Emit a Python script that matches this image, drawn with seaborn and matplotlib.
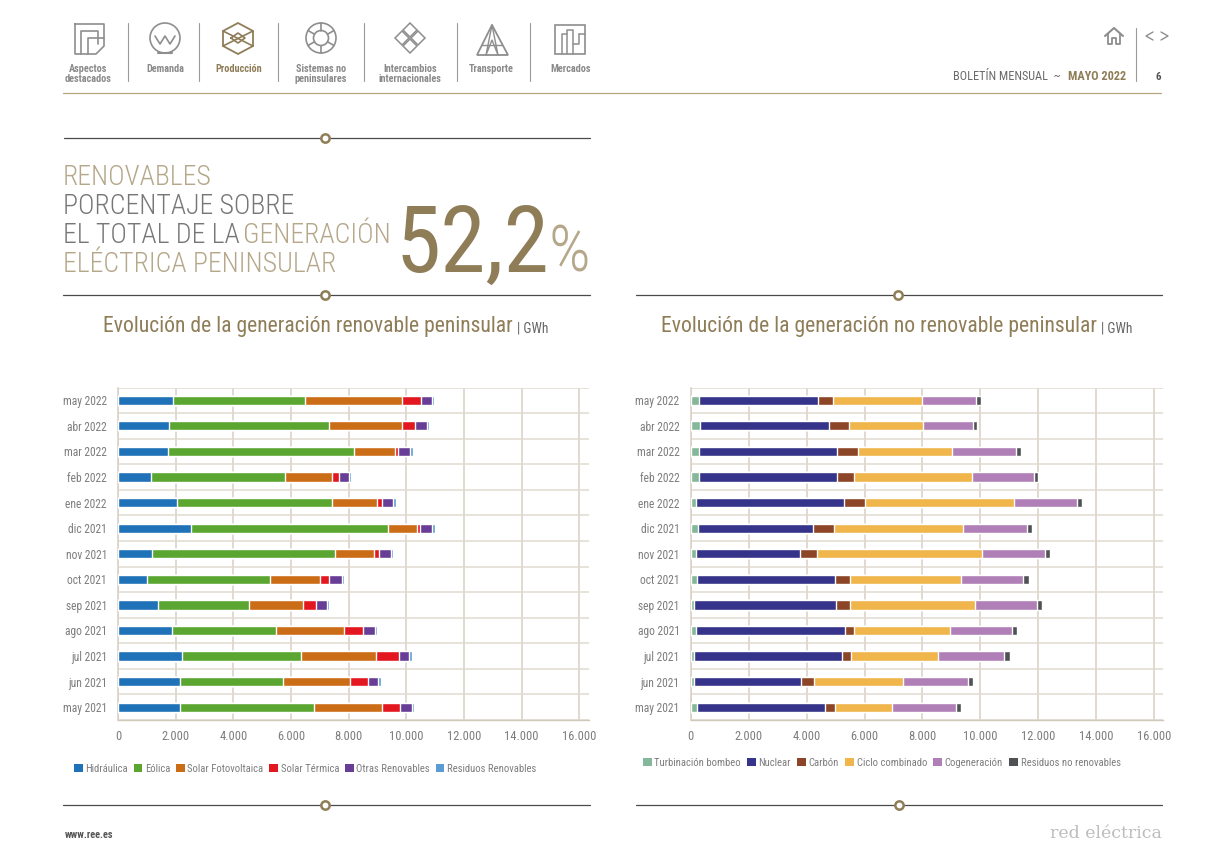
import numpy as np
import matplotlib
matplotlib.use("Agg")
import matplotlib.pyplot as plt
from matplotlib.patches import Patch, Circle, Polygon, Rectangle
import seaborn as sns

# =====================================================
# DATA (GWh)
# =====================================================

months = ["may 2022", "abr 2022", "mar 2022", "feb 2022", "ene 2022", "dic 2021", "nov 2021",
          "oct 2021", "sep 2021", "ago 2021", "jul 2021", "jun 2021", "may 2021"]

hidraulica = [1925, 1775, 1730, 1137, 2053, 2529, 1195, 1009, 1380, 1856, 2204, 2157, 2157]
eolica = [4575, 5545, 6456, 4640, 5367, 6828, 6335, 4257, 3156, 3631, 4141, 3562, 4641]
solar_foto = [3361, 2541, 1414, 1663, 1553, 1008, 1340, 1752, 1890, 2363, 2595, 2316, 2351]
solar_termica = [643, 424, 116, 212, 174, 116, 174, 302, 441, 650, 800, 638, 649]
otras_renov = [383, 428, 417, 359, 406, 406, 428, 452, 383, 417, 360, 348, 406]
residuos_renov = [81, 70, 104, 79, 82, 104, 70, 81, 81, 81, 81, 93, 47]

turbinacion = [289, 324, 289, 289, 197, 254, 197, 231, 104, 173, 104, 104, 231]
nuclear = [4104, 4439, 4763, 4763, 5086, 3954, 3583, 4763, 4925, 5145, 5133, 3711, 4393]
carbon = [508, 693, 716, 578, 717, 728, 567, 520, 485, 312, 289, 428, 347]
ciclo = [3076, 2556, 3249, 4081, 5167, 4463, 5699, 3804, 4289, 3318, 3017, 3098, 1965]
cogeneracion = [1884, 1734, 2220, 2127, 2162, 2208, 2185, 2162, 2162, 2127, 2255, 2220, 2232]
residuos_no = [150, 150, 150, 150, 185, 185, 162, 185, 150, 185, 219, 185, 161]

renov_series = [hidraulica, eolica, solar_foto, solar_termica, otras_renov, residuos_renov]
renov_labels = ["Hidráulica", "Eólica", "Solar Fotovoltaica", "Solar Térmica",
                "Otras Renovables", "Residuos Renovables"]
renov_colors = ["#1f72b8", "#5aa631", "#cb6d17", "#e3171f", "#683d96", "#5b9bd5"]

noren_series = [turbinacion, nuclear, carbon, ciclo, cogeneracion, residuos_no]
noren_labels = ["Turbinación bombeo", "Nuclear", "Carbón", "Ciclo combinado",
                "Cogeneración", "Residuos no renovables"]
noren_colors = ["#85b79b", "#36348a", "#8c4526", "#f0b54b", "#b07fb8", "#505155"]

x_ticks = [0, 2000, 4000, 6000, 8000, 10000, 12000, 14000, 16000]
x_tick_labels = ["0", "2.000", "4.000", "6.000", "8.000", "10.000", "12.000", "14.000", "16.000"]

# =====================================================
# FIGURE AND PAGE LAYER (pixel coordinates)
# =====================================================

sns.set_theme(style="white")
plt.rcParams["font.family"] = ["Roboto Condensed", "DejaVu Sans"]

W, H = 1224, 865
fig = plt.figure(figsize=(W / 100, H / 100), dpi=100, facecolor="white")

page = fig.add_axes([0, 0, 1, 1], zorder=0)
page.set_xlim(0, W)
page.set_ylim(H, 0)
page.axis("off")

GOLD = "#8f7d58"
LIGHT_GOLD = "#b5a78a"
DARK = "#4a4a4a"
GREY = "#8a8a8a"


def divider(x0, x1, y, node):
    page.plot([x0, x1], [y, y], color=DARK, lw=0.9, zorder=1)
    page.plot([node], [y], marker="o", ms=6, mfc="white", mec=GOLD, mew=1.8, zorder=2)


divider(64, 590, 138, 325)
divider(63, 590, 295, 325)
divider(636, 1162, 295, 898)
divider(63, 590, 805, 325)
divider(636, 1162, 805, 899)
page.plot([63, 1161], [92.5, 92.5], color="#b7a57f", lw=0.9)

# =====================================================
# TOP MENU
# =====================================================

for x in [128, 199, 278, 364, 457, 530]:
    page.plot([x, x], [23, 81], color="#9a9a9a", lw=0.8)

menu = [(88, "Aspectos\ndestacados", GREY), (165, "Demanda", GREY), (239, "Producción", GOLD),
        (321, "Sistemas no\npeninsulares", GREY), (410, "Intercambios\ninternacionales", GREY),
        (491, "Transporte", GREY), (571, "Mercados", GREY)]
for x, label, col in menu:
    page.text(x, 63.5, label, ha="center", va="top", fontsize=7.4, color=col, weight="bold",
              linespacing=1.0)

ic = "#8e8e8e"
# aspectos
page.plot([75, 104, 104, 96, 75, 75], [24, 24, 46, 54, 54, 24], color=ic, lw=1.2)
page.plot([81, 81, 98, 98], [54, 31, 31, 44], color=ic, lw=1.2)
page.plot([88, 88, 104], [54, 38, 38], color=ic, lw=1.2)
# demanda
page.add_patch(Circle((165, 38), 15, fill=False, ec=ic, lw=1.2))
page.plot([155, 160, 165, 170, 175], [36, 44, 36, 44, 36], color=ic, lw=1.2)
page.plot([158, 172], [53, 53], color=ic, lw=1.5)
# produccion
page.add_patch(Polygon([(238, 23), (253, 31), (253, 46), (238, 54), (223, 46), (223, 31)],
                       fill=False, ec=GOLD, lw=1.3))
page.plot([223, 253], [31, 46], color=GOLD, lw=1.2)
page.plot([253, 223], [31, 46], color=GOLD, lw=1.2)
page.plot([231, 238, 245, 238, 231], [38, 33, 38, 43, 38], color=GOLD, lw=1.2)
# sistemas
page.add_patch(Circle((321, 38), 15, fill=False, ec=ic, lw=1.2))
page.add_patch(Circle((321, 38), 7.5, fill=False, ec=ic, lw=1.2))
for a in np.deg2rad([30, 90, 150, 210, 270, 330]):
    page.plot([321 + 7.5 * np.cos(a), 321 + 15 * np.cos(a)],
              [38 + 7.5 * np.sin(a), 38 + 15 * np.sin(a)], color=ic, lw=1.2)
# intercambios
for dx, dy in [(0, -8), (0, 8), (-8, 0), (8, 0)]:
    page.add_patch(Polygon([(410 + dx, 38 + dy - 7), (410 + dx + 7, 38 + dy),
                            (410 + dx, 38 + dy + 7), (410 + dx - 7, 38 + dy)],
                           fill=False, ec=ic, lw=1.1))
# transporte
page.add_patch(Polygon([(492, 25), (508, 55), (477, 55)], fill=False, ec=ic, lw=1.3))
page.plot([492, 486, 492, 498, 492], [25, 55, 40, 55, 25], color=ic, lw=1.0)
page.plot([482, 502], [45, 45], color=ic, lw=1.0)
# mercados
page.add_patch(Rectangle((555, 25), 30, 29, fill=False, ec=ic, lw=1.2))
page.plot([562, 562, 567, 567, 573, 573, 579, 579], [54, 34, 34, 30, 30, 44, 44, 34], color=ic, lw=1.1)
page.plot([567, 567], [34, 54], color=ic, lw=1.1)
page.plot([573, 573], [44, 54], color=ic, lw=1.1)
page.plot([579, 585], [34, 34], color=ic, lw=1.1)

# home and arrows
page.plot([1105, 1114, 1123], [36, 28, 36], color=ic, lw=1.5)
page.plot([1108, 1108, 1112, 1112, 1116, 1116, 1120, 1120],
          [34, 44, 44, 38, 38, 44, 44, 34], color=ic, lw=1.3)
page.plot([1135.5, 1135.5], [28, 81], color="#9a9a9a", lw=0.8)
page.plot([1153, 1146, 1153], [32, 36, 40], color=ic, lw=1.0)
page.plot([1161, 1168, 1161], [32, 36, 40], color=ic, lw=1.0)

page.text(1061, 77, "BOLETÍN MENSUAL  ~", ha="right", va="center", fontsize=8.8, color="#6a6a6a")
page.text(1126, 77, "MAYO 2022", ha="right", va="center", fontsize=8.8, color=GOLD, weight="bold")
page.text(1158, 77.5, "6", ha="center", va="center", fontsize=8, color="#555555", weight="bold")

# =====================================================
# HEADLINE
# =====================================================

head = dict(va="baseline", fontsize=20, weight=300)
page.text(63, 185, "RENOVABLES", color=LIGHT_GOLD, **head)
page.text(63, 214, "PORCENTAJE SOBRE", color="#777777", **head)
page.text(63, 243, "EL TOTAL DE LA", color="#777777", **head)
page.text(243, 243, "GENERACIÓN", color=LIGHT_GOLD, **head)
page.text(63, 272, "ELÉCTRICA PENINSULAR", color=LIGHT_GOLD, **head)

page.text(549, 272, "52,2", ha="right", va="baseline", fontsize=66, color=GOLD)
page.text(590, 272, "%", ha="right", va="baseline", fontsize=47, weight=300, color=LIGHT_GOLD)

page.text(103, 332, "Evolución de la generación renovable peninsular", va="baseline",
          fontsize=15.6, color=GOLD)
page.text(517, 332, "| GWh", va="baseline", fontsize=9.8, color="#666666")
page.text(661, 332, "Evolución de la generación no renovable peninsular", va="baseline",
          fontsize=15.6, color=GOLD)
page.text(1101, 332, "| GWh", va="baseline", fontsize=9.8, color="#666666")

# =====================================================
# STACKED BARS
# =====================================================


def stacked_chart(left_px, right_px, x_max, series, labels, colors, legend_x, legend_y, colspace):
    ax = fig.add_axes([left_px / W, 1 - 720 / H, (right_px - left_px) / W, (720 - 387.5) / H],
                      zorder=2)
    ax.set_facecolor("none")
    cum = np.cumsum(np.array(series, dtype=float), axis=0)
    # longest stack first so each shorter one sits on top of it
    for i in range(len(series) - 1, -1, -1):
        sns.barplot(x=cum[i], y=months, order=months, orient="y", color=colors[i], saturation=1,
                    width=0.36, ax=ax, zorder=3)
    ax.set_xlim(0, x_max)
    ax.set_ylim(len(months) - 0.5, -0.5)
    ax.set_xlabel("")
    ax.set_ylabel("")
    ax.set_xticks(x_ticks)
    ax.set_xticklabels(x_tick_labels)
    ax.set_yticks(np.arange(-0.5, len(months)), minor=True)
    ax.set_axisbelow(True)
    ax.grid(True, axis="x", which="major", color="#d8d0c4", lw=1.1)
    ax.grid(True, axis="y", which="minor", color="#e0dbd1", lw=1.1)
    ax.grid(False, axis="y", which="major")
    ax.tick_params(axis="y", which="major", length=0, pad=8, labelsize=8.3, labelcolor="#7d7d7d")
    ax.tick_params(axis="y", which="minor", length=3, width=1, color="#d8d0c4")
    ax.tick_params(axis="x", which="major", length=0, pad=7, labelsize=9, labelcolor="#7d7d7d")
    for side in ["top", "right"]:
        ax.spines[side].set_visible(False)
    ax.spines["left"].set_color("#d8d0c4")
    ax.spines["bottom"].set_color("#d0c8b8")
    ax.spines["left"].set_linewidth(1.1)
    ax.spines["bottom"].set_linewidth(1.0)

    handles = [Patch(facecolor=c, edgecolor="none") for c in colors]
    leg = ax.legend(handles, labels, ncol=len(labels), frameon=False, loc="center left",
                    bbox_to_anchor=(legend_x, legend_y), bbox_transform=page.transData,
                    fontsize=7.7, handlelength=0.8, handleheight=0.8, handletextpad=0.25,
                    columnspacing=colspace, borderpad=0, borderaxespad=0)
    for t in leg.get_texts():
        t.set_color("#7d7d7d")
    return ax


stacked_chart(118, 588.7, 16327, renov_series, renov_labels, renov_colors, 74, 769, 0.55)
stacked_chart(690.7, 1162.7, 16292, noren_series, noren_labels, noren_colors, 643, 762.5, 0.6)

# =====================================================
# FOOTER
# =====================================================

page.text(65, 835, "www.ree.es", va="center", fontsize=7.5, color="#555555", weight="bold")
page.text(1162, 834, "red eléctrica", ha="right", va="center", fontsize=12.5, color="#bdbdbd",
          family="DejaVu Serif")

fig.savefig("out.png", dpi=100)
